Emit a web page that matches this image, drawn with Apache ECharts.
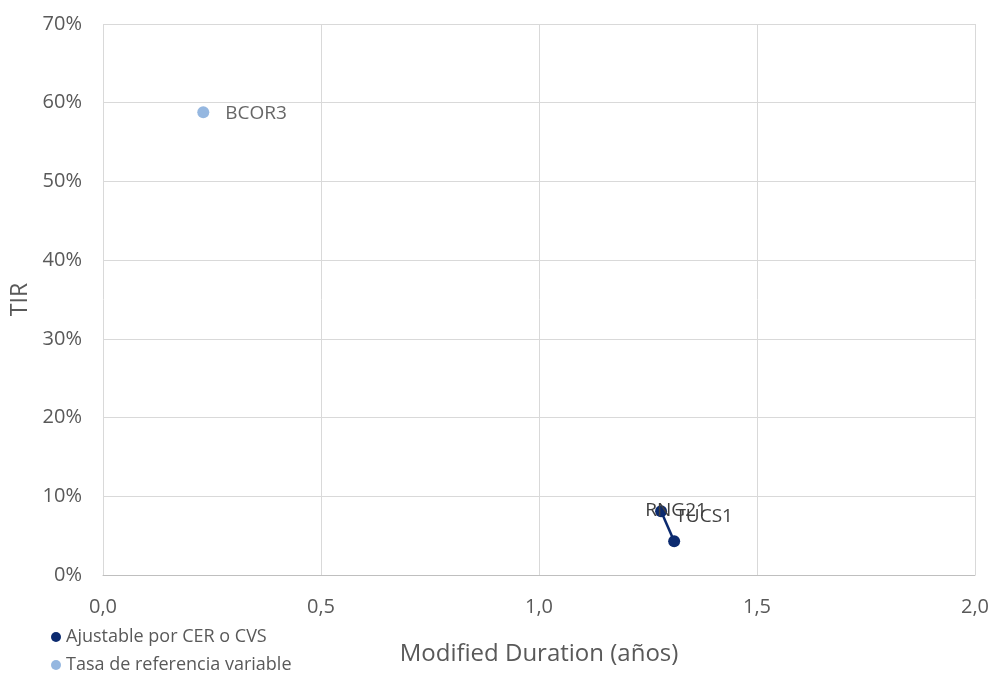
<!DOCTYPE html>
<html><head><meta charset="utf-8">
<script src="https://cdn.jsdelivr.net/npm/echarts@6/dist/echarts.min.js"></script>
<style>html,body{margin:0;padding:0;background:#fff}#c{width:994px;height:677px}</style>
</head><body><div id="c"></div>
<script>
const seriesNames = ['Ajustable por CER o CVS', 'Tasa de referencia variable'];
const cerNames = ['RNG21', 'TUCS1'];
const cerDuration = [1.28, 1.31];
const cerTIR = [8.1, 4.3];
const varNames = ['BCOR3'];
const varDuration = [0.23];
const varTIR = [58.8];
const labelOffsets = { RNG21: [15, -1], TUCS1: [30, -25], BCOR3: [22, 1] };

const font = '"Open Sans", "Liberation Sans", Arial, sans-serif';
const txt = '#595959';

function mk(names, xs, ys) {
  return names.map((n, i) => ({ name: n, value: [xs[i], ys[i]],
    label: { show: true, position: 'inside', align: n === 'BCOR3' ? 'left' : 'center', offset: labelOffsets[n], formatter: n, color: '#404040', fontSize: 19, fontFamily: font } }));
}

const chart = echarts.init(document.getElementById('c'));
chart.setOption({
  animation: false,
  grid: { left: 103, right: 19, top: 24, bottom: 102, containLabel: false, outerBoundsMode: 'none' },
  legend: {
    orient: 'vertical', left: 51, top: 628, itemGap: 10, itemWidth: 10, itemHeight: 10,
    padding: 0,
    icon: 'circle',
    textStyle: { color: txt, fontSize: 18, lineHeight: 18, fontFamily: font, padding: [0, 0, 0, 0] },
    data: seriesNames
  },
  xAxis: {
    type: 'value', min: 0, max: 2, interval: 0.5,
    name: 'Modified Duration (años)', nameLocation: 'middle', nameGap: 67,
    nameTextStyle: { color: txt, fontSize: 24, fontFamily: font },
    axisLine: { show: true, lineStyle: { color: '#bfbfbf' } },
    axisTick: { show: false },
    splitLine: { show: true, lineStyle: { color: '#d9d9d9' } },
    axisLabel: { color: txt, fontSize: 20, fontFamily: font, margin: 22, formatter: v => v.toFixed(1).replace('.', ',') }
  },
  yAxis: {
    type: 'value', min: 0, max: 70, interval: 10,
    name: 'TIR', nameLocation: 'middle', nameGap: 70, nameRotate: 90,
    nameTextStyle: { color: txt, fontSize: 23, fontFamily: font },
    axisLine: { show: false }, axisTick: { show: false },
    splitLine: { show: true, lineStyle: { color: '#d9d9d9' } },
    axisLabel: { color: txt, fontSize: 20, fontFamily: font, margin: 21, formatter: v => v + '%' }
  },
  series: [
    { name: seriesNames[0], type: 'line', symbol: 'circle', symbolSize: 12,
      itemStyle: { color: '#0b2a6f' }, lineStyle: { color: '#0b2a6f', width: 2.5 },
      data: mk(cerNames, cerDuration, cerTIR) },
    { name: seriesNames[1], type: 'scatter', symbol: 'circle', symbolSize: 12,
      itemStyle: { color: '#7aa5d8' },
      data: mk(varNames, varDuration, varTIR) }
  ]
});
</script></body></html>
